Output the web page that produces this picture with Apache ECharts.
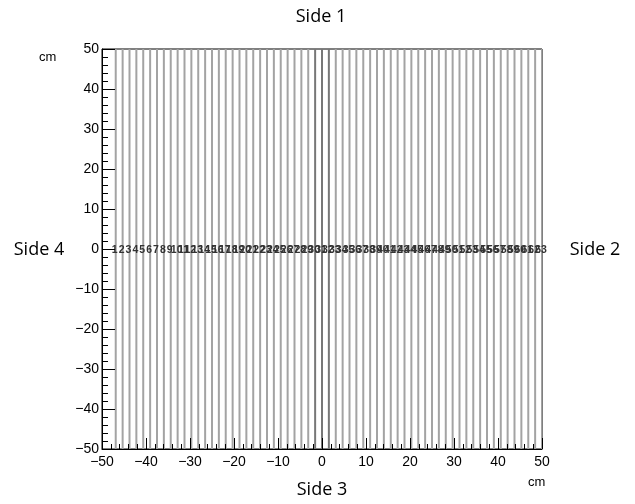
<!DOCTYPE html>
<html>
<head>
<meta charset="utf-8">
<script src="https://cdn.jsdelivr.net/npm/echarts@6/dist/echarts.min.js"></script>
<style>html,body{margin:0;padding:0;background:#fff}#c{width:635px;height:504px}</style>
</head>
<body>
<div id="c"></div>
<script>
// x positions (cm) of the vertical strips
const stripX = [-46.88,-45.31,-43.75,-42.19,-40.63,-39.06,-37.5,-35.94,-34.38,-32.81,-31.25,-29.69,-28.13,-26.56,-25,-23.44,-21.88,-20.31,-18.75,-17.19,-15.63,-14.06,-12.5,-10.94,-9.38,-7.81,-6.25,-4.69,-3.13,-1.56,0,1.56,3.13,4.69,6.25,7.81,9.38,10.94,12.5,14.06,15.63,17.19,18.75,20.31,21.88,23.44,25,26.56,28.13,29.69,31.25,32.81,34.38,35.94,37.5,39.06,40.63,42.19,43.75,45.31,46.88,48.44,50];
const stripLabels = ['1','2','3','4','5','6','7','8','9','10','11','12','13','14','15','16','17','18','19','20','21','22','23','24','25','26','27','28','29','30','31','32','33','34','35','36','37','38','39','40','41','42','43','44','45','46','47','48','49','50','51','52','53','54','55','56','57','58','59','60','61','62','63'];
const labelY = 0;
const yRange = [-50, 50];
const xRange = [-50, 50];

const chart = echarts.init(document.getElementById('c'), null, {renderer: 'canvas'});
const tickFont = '"Liberation Sans", Arial, sans-serif';
const sideFont = '"Open Sans", "Noto Sans", sans-serif';
const minus = v => String(v).replace('-', '\u2212');

chart.setOption({
  animation: false,
  grid: {left: 102, top: 49, width: 440, height: 400, show: true, borderColor: '#000', borderWidth: 1, containLabel: false},
  xAxis: {
    type: 'value', min: xRange[0], max: xRange[1], interval: 10, z: 10,
    axisLine: {show: true, onZero: false, lineStyle: {color: '#000', width: 1}},
    axisTick: {show: true, inside: true, length: 11, lineStyle: {color: '#000', width: 1}},
    minorTick: {show: true, splitNumber: 5, length: 5, lineStyle: {color: '#000', width: 1}},
    splitLine: {show: false},
    axisLabel: {color: '#000', fontSize: 14, fontFamily: tickFont, margin: 6, formatter: minus}
  },
  yAxis: {
    type: 'value', min: yRange[0], max: yRange[1], interval: 10, z: 10,
    axisLine: {show: true, onZero: false, lineStyle: {color: '#000', width: 1}},
    axisTick: {show: true, inside: true, length: 13, lineStyle: {color: '#000', width: 1}},
    minorTick: {show: true, splitNumber: 5, length: 6, lineStyle: {color: '#000', width: 1}},
    splitLine: {show: false},
    axisLabel: {color: '#000', fontSize: 14, fontFamily: tickFont, margin: 3, formatter: minus}
  },
  series: [
    {
      type: 'custom',
      z: 2,
      data: stripX.map((x, i) => [x, i]),
      encode: {x: 0},
      clip: true,
      renderItem: function (params, api) {
        const x = api.value(0);
        const p1 = api.coord([x, yRange[0]]);
        const p2 = api.coord([x, yRange[1]]);
        const dark = Math.abs(x) < 2;
        return {
          type: 'line',
          shape: {x1: p1[0], y1: p1[1], x2: p2[0], y2: p2[1]},
          style: {stroke: dark ? '#777' : '#a3a3a3', lineWidth: 2}
        };
      }
    },
    {
      type: 'custom',
      z: 5,
      data: stripX.map((x, i) => [x, labelY, i]),
      encode: {x: 0, y: 1},
      renderItem: function (params, api) {
        const p = api.coord([api.value(0), api.value(1)]);
        return {
          type: 'text',
          x: p[0] - 1, y: p[1] + 1,
          style: {
            text: stripLabels[api.value(2)],
            align: 'center', verticalAlign: 'middle',
            fontSize: 10.5, fontWeight: 'bold', fill: '#333', fontFamily: tickFont
          }
        };
      }
    }
  ],
  graphic: [
    {type: 'text', left: 39, top: 51, style: {text: 'cm', fontSize: 13, fill: '#000', fontFamily: '"Liberation Sans",Arial,sans-serif'}},
    {type: 'text', left: 528, top: 476, style: {text: 'cm', fontSize: 13, fill: '#000', fontFamily: '"Liberation Sans",Arial,sans-serif'}},
    {type: 'text', x: 321, y: 17, style: {text: 'Side 1', fontSize: 18, fill: '#000', fontFamily: sideFont, align: 'center', verticalAlign: 'middle'}},
    {type: 'text', x: 595, y: 250, style: {text: 'Side 2', fontSize: 18, fill: '#000', fontFamily: sideFont, align: 'center', verticalAlign: 'middle'}},
    {type: 'text', x: 322, y: 490, style: {text: 'Side 3', fontSize: 18, fill: '#000', fontFamily: sideFont, align: 'center', verticalAlign: 'middle'}},
    {type: 'text', x: 39, y: 250, style: {text: 'Side 4', fontSize: 18, fill: '#000', fontFamily: sideFont, align: 'center', verticalAlign: 'middle'}}
  ]
});
</script>
</body>
</html>
